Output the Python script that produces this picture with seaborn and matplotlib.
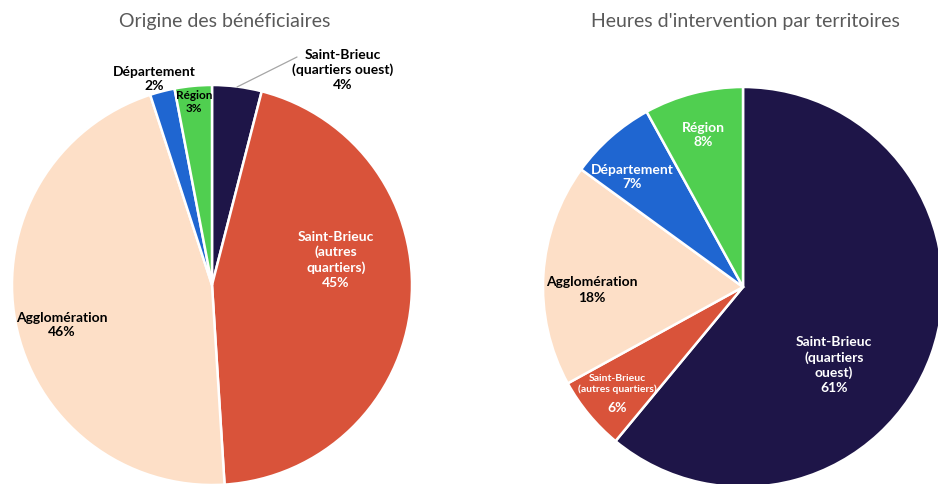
import matplotlib
matplotlib.use("Agg")
import matplotlib.pyplot as plt
import seaborn as sns

categories = ["Saint-Brieuc (quartiers ouest)", "Saint-Brieuc (autres quartiers)",
              "Agglomération", "Département", "Région"]
beneficiaires = [4, 45, 46, 2, 3]
heures = [61, 6, 18, 7, 8]
colors = ["#1E1548", "#D9533A", "#FDDFC7", "#1F66D1", "#50CF50"]

sns.set_theme(style="white")
plt.rcParams['font.family'] = ['Lato', 'DejaVu Sans']

fig = plt.figure(figsize=(9.38, 4.84), dpi=100)

# pie 1 : centre (212, 285) px, rayon 200 px
ax1 = fig.add_axes([12 / 938, -1 / 484, 400 / 938, 400 / 484])
# pie 2 : centre (743, 287) px
ax2 = fig.add_axes([543 / 938, -3 / 484, 400 / 938, 400 / 484])

for ax, vals in [(ax1, beneficiaires), (ax2, heures)]:
    ax.pie(vals, colors=colors, startangle=90, counterclock=False, radius=1,
           wedgeprops=dict(edgecolor="white", linewidth=1.8))
    ax.set_xlim(-1, 1)
    ax.set_ylim(-1, 1)
    ax.set_aspect("equal")
    ax.axis("off")

fs = 10
ls = 1.3
# labels pie 1
lab1 = [
    ("Saint-Brieuc\n(quartiers ouest)\n4%", 0.655, 1.075, "black", fs),
    ("Saint-Brieuc\n(autres\nquartiers)\n45%", 0.62, 0.125, "white", fs),
    ("Agglomération\n46%", -0.75, -0.2, "black", fs),
    ("Département\n2%", -0.29, 1.03, "black", fs),
    ("Région\n3%", -0.09, 0.915, "black", 8.5),
]
for t, x, y, c, s in lab1:
    ax1.text(x, y, t, ha="center", va="center", color=c, fontsize=s,
             fontweight="bold", linespacing=ls, clip_on=False)
ax1.plot([0.425, 0.125], [1.14, 0.99], color="#A6A6A6", lw=0.9, clip_on=False)

lab2 = [
    ("Saint-Brieuc\n(quartiers\nouest)\n61%", 0.455, -0.39, "white", fs),
    ("Agglomération\n18%", -0.755, -0.015, "black", fs),
    ("Département\n7%", -0.555, 0.55, "white", fs),
    ("Région\n8%", -0.2, 0.76, "white", fs),
]
for t, x, y, c, s in lab2:
    ax2.text(x, y, t, ha="center", va="center", color=c, fontsize=s,
             fontweight="bold", linespacing=ls, clip_on=False)
# petite part : texte plus petit
ax2.text(-0.63, -0.485, "Saint-Brieuc\n(autres quartiers)", ha="center",
         va="center", color="white", fontsize=7.5, fontweight="bold",
         linespacing=1.25)
ax2.text(-0.63, -0.605, "6%", ha="center", va="center", color="white",
         fontsize=fs, fontweight="bold")

fig.text(225 / 938, 1 - 22 / 484, "Origine des bénéficiaires", ha="center",
         va="center", fontsize=14, color="#595959")
fig.text(745 / 938, 1 - 22 / 484, "Heures d'intervention par territoires",
         ha="center", va="center", fontsize=14, color="#595959")

fig.savefig("out.png", dpi=100)
